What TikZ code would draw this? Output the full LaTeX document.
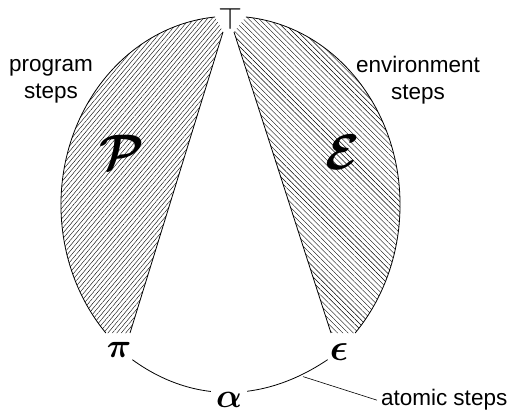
\RequirePackage{fix-cm}
\documentclass[tikz,border=0pt]{standalone}
\usepackage{fontspec}
\newfontfamily\lab{Liberation Sans}
\usetikzlibrary{patterns.meta}
\newcommand{\bigbold}[2]{{\fontsize{#1}{#1}\selectfont\boldmath$#2$}}
\begin{document}
\begin{tikzpicture}[x=1pt,y=1pt,
  outline/.style={line width=0.8pt},
  hatchL/.style={pattern={Lines[angle=50,distance=3.4pt,line width=0.4pt]}},
  hatchR/.style={pattern={Lines[angle=135,distance=3.7pt,line width=0.4pt]}},
  mathlbl/.style={inner sep=2pt},
  txt/.style={font=\lab\fontsize{22.5}{27}\selectfont, align=center, inner sep=0pt}]
\useasboundingbox (0,0) rectangle (514,414);
% geometry
\coordinate (LT) at (223,382);
\coordinate (LB) at (130,81);
\coordinate (RT) at (234,382);
\coordinate (RB) at (331,81);
\coordinate (LO) at (215.1,397.0);
\coordinate (RO) at (245.9,397.0);
\fill[hatchL] (LO) arc[start angle=95.2,end angle=222.7,x radius=169.5,y radius=188.8] -- (LB) -- (LT) -- cycle;
\fill[hatchR] (RO) arc[start angle=84.8,end angle=-42.7,x radius=169.5,y radius=188.8] -- (RB) -- (RT) -- cycle;
\draw[outline] (LO) arc[start angle=95.2,end angle=222.7,x radius=169.5,y radius=188.8];
\draw[outline] (RO) arc[start angle=84.8,end angle=-42.7,x radius=169.5,y radius=188.8];
\draw[outline] (LT) -- (LB);
\draw[outline] (RT) -- (RB);
% labels
\node[inner sep=0pt] (ntop) at (230.7,395) {\fontsize{31}{31}\selectfont$\top$};
\node[mathlbl] (npi) at (119,64) {\bigbold{34}{\pi}};
\node[mathlbl] (neps) at (339,62) {\bigbold{38}{\epsilon}};
\node (nP) at (122,262) {\bigbold{50}{\mathcal{P}}};
\node (nE) at (343,262) {\bigbold{50}{\mathcal{E}}};
\node[txt] (prog) at (51,333) {program\\steps};
\node[txt] (env) at (418,333.6) {environment\\steps};
\node[txt, anchor=base west, inner sep=3pt, outer sep=1pt] (atomic) at (377,8) {atomic steps};
% atomic arc
\draw[outline] (npi) to[out=-36,in=-146] (neps);
\coordinate (ap) at (303,37.4);
\draw[line width=0.6pt] (ap) -- (atomic.west);
\node[fill=white, inner xsep=5pt, inner ysep=3pt] (nalpha) at (229,14) {\bigbold{34}{\alpha}};
\end{tikzpicture}
\end{document}
